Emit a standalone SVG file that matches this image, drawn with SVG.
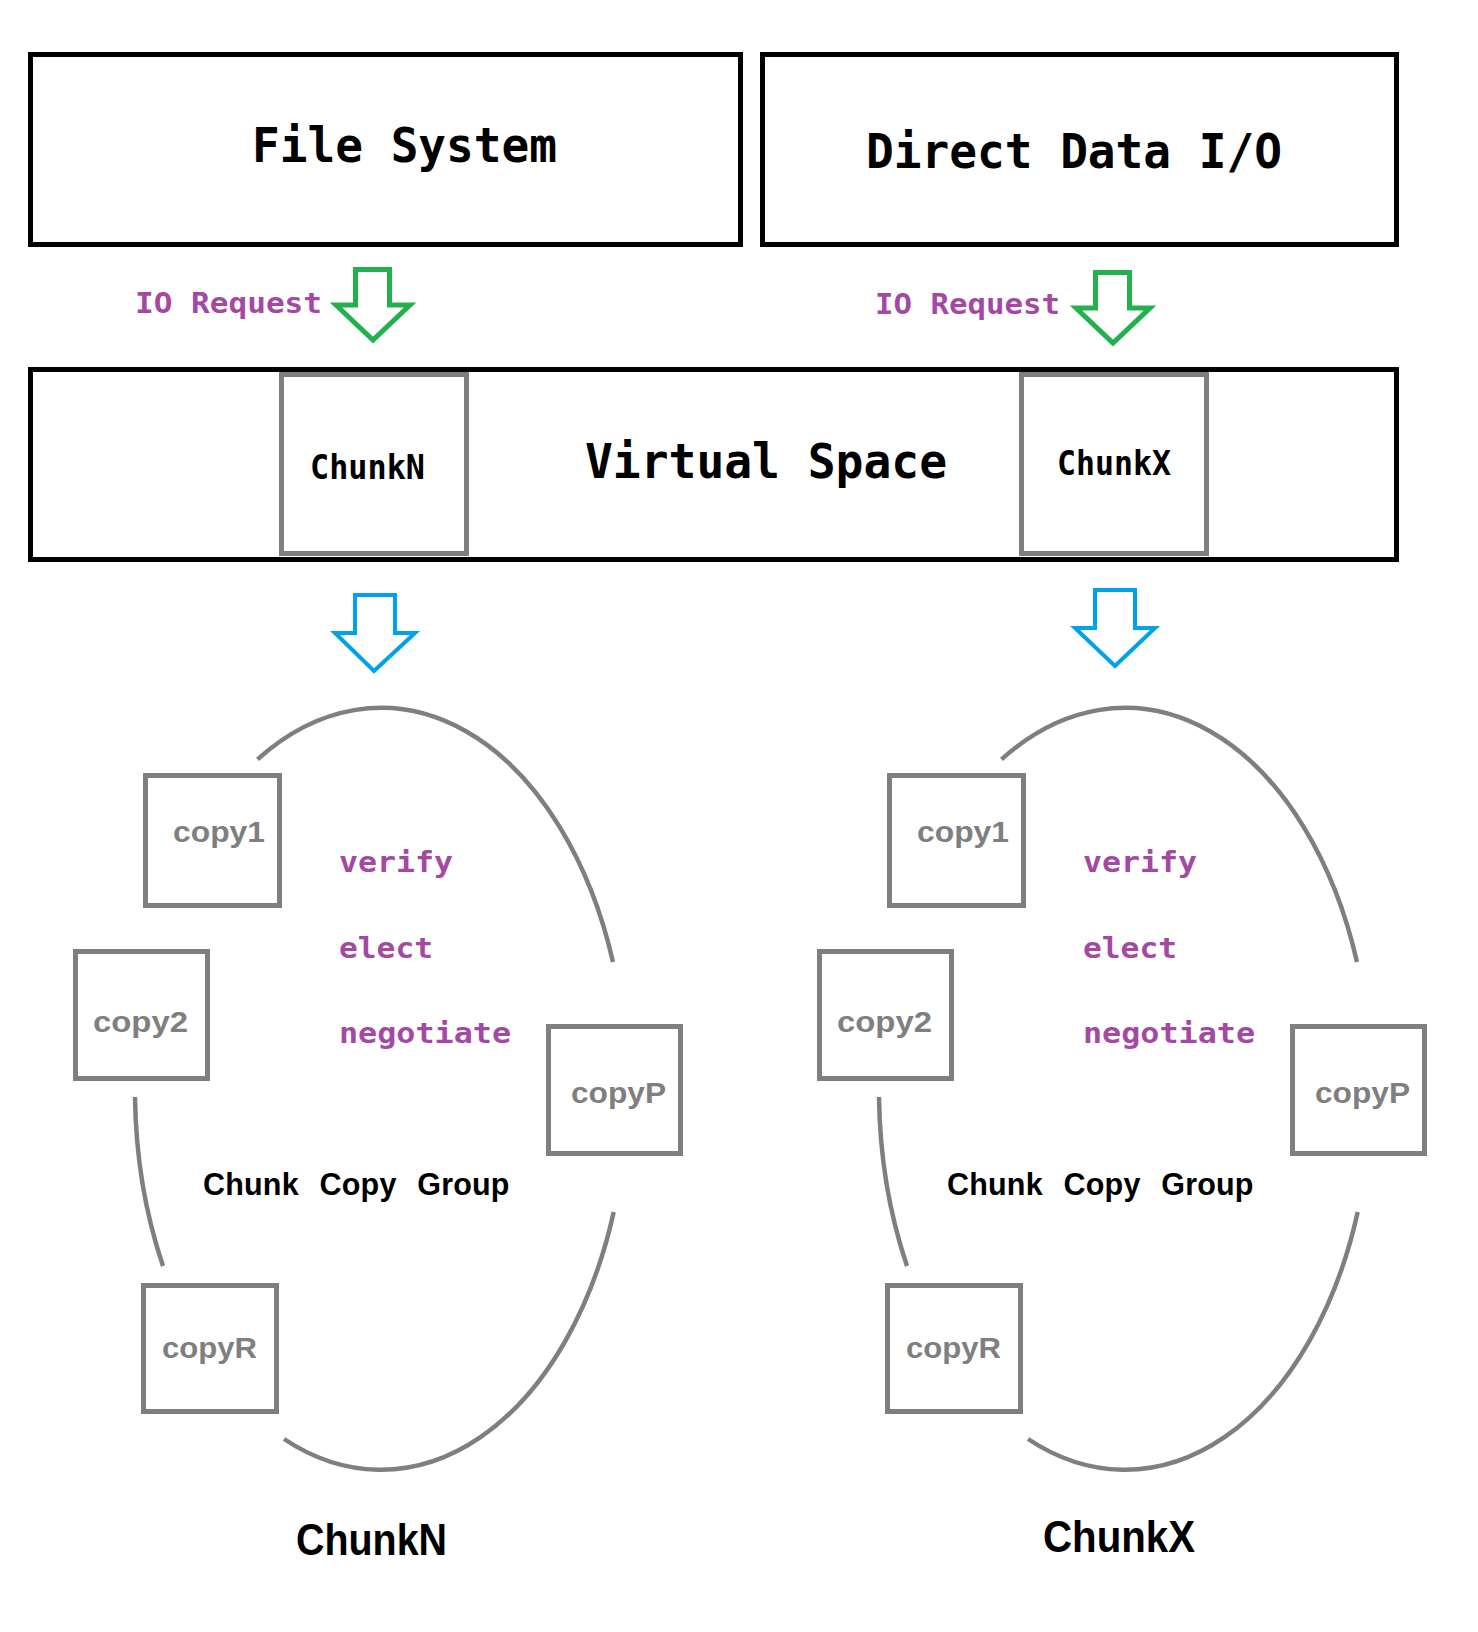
<svg xmlns="http://www.w3.org/2000/svg" width="1478" height="1632" viewBox="0 0 1478 1632">
<style>
.bbox{fill:#fff;stroke:#000;stroke-width:5}
.gbox{fill:#fff;stroke:#7f7f7f;stroke-width:5}
.garrow{fill:#fff;stroke:#22b14c;stroke-width:5;stroke-linejoin:miter}
.barrow{fill:#fff;stroke:#00a2e8;stroke-width:4;stroke-linejoin:miter}
.ring{fill:none;stroke:#7f7f7f;stroke-width:4.5}
.mono{font-family:"DejaVu Sans Mono","Liberation Mono",monospace;font-weight:bold}
.sans{font-family:"Liberation Sans","Arial",sans-serif;font-weight:bold}
.big{font-size:48px;fill:#000}
.req{font-size:29px;fill:#a349a4}
.chk{font-size:33px;fill:#000}
.act{font-size:28px;fill:#a349a4}
.cp{font-size:30px;fill:#7f7f7f}
.grp{font-size:30.5px;fill:#000;word-spacing:12px;letter-spacing:0.5px}
.lbl{font-size:44px;fill:#000}
</style>
<rect width="1478" height="1632" fill="#fff"/>
<g id="file-system">
<rect class="bbox" x="30.5" y="54.5" width="710" height="190"/>
<text class="mono big" x="252" y="162" textLength="305" lengthAdjust="spacingAndGlyphs">File System</text>
</g>
<g id="direct-data-io">
<rect class="bbox" x="762.5" y="54.5" width="634" height="190"/>
<text class="mono big" x="866" y="168" textLength="416" lengthAdjust="spacingAndGlyphs">Direct Data I/O</text>
</g>
<g id="virtual-space">
<rect class="bbox" x="30.5" y="369.5" width="1366" height="190"/>
<text class="mono big" x="585" y="478" textLength="362" lengthAdjust="spacingAndGlyphs">Virtual Space</text>
</g>
<g id="chunkN-slot">
<rect class="gbox" x="281.5" y="374.5" width="185" height="179"/>
<text class="mono chk" x="310" y="479" textLength="115" lengthAdjust="spacingAndGlyphs">ChunkN</text>
</g>
<g id="chunkX-slot">
<rect class="gbox" x="1021.5" y="374.5" width="185" height="179"/>
<text class="mono chk" x="1057" y="475" textLength="114" lengthAdjust="spacingAndGlyphs">ChunkX</text>
</g>
<g id="connectors">
<path class="garrow" d="M355.5,269.5 L389.5,269.5 L389.5,305 L410,305 L373,340 L336,305 L355.5,305 Z"/>
<path class="garrow" d="M1095.5,272.5 L1129.5,272.5 L1129.5,308 L1150,308 L1113,343 L1076,308 L1095.5,308 Z"/>
<path class="barrow" d="M355,595 L395,595 L395,633 L415,633 L374,671 L335,633 L355,633 Z"/>
<path class="barrow" d="M1095,590 L1135,590 L1135,628 L1155,628 L1115,666 L1075,628 L1095,628 Z"/>
<text class="mono req" x="135" y="313" textLength="187" lengthAdjust="spacingAndGlyphs">IO Request</text>
<text class="mono req" x="875" y="314" textLength="185" lengthAdjust="spacingAndGlyphs">IO Request</text>
</g>
<g id="group-chunkN">
<path class="ring" d="M257.5,759.4 A246,381 0 0,1 613,962"/>
<path class="ring" d="M613.7,1212 A246,381 0 0,1 284,1439"/>
<path class="ring" d="M135,1097 A246,381 0 0,0 163,1266"/>
<g id="n-copy1"><rect class="gbox" x="145.5" y="775.5" width="134" height="130"/><text class="sans cp" x="173" y="842" textLength="92" lengthAdjust="spacingAndGlyphs">copy1</text></g>
<g id="n-copy2"><rect class="gbox" x="75.5" y="951.5" width="132" height="127"/><text class="sans cp" x="93" y="1032" textLength="95" lengthAdjust="spacingAndGlyphs">copy2</text></g>
<g id="n-copyP"><rect class="gbox" x="548.5" y="1026.5" width="132" height="127"/><text class="sans cp" x="571" y="1103" textLength="95" lengthAdjust="spacingAndGlyphs">copyP</text></g>
<g id="n-copyR"><rect class="gbox" x="143.5" y="1285.5" width="133" height="126"/><text class="sans cp" x="162" y="1358" textLength="95" lengthAdjust="spacingAndGlyphs">copyR</text></g>
<text class="mono act" x="339" y="872" textLength="114" lengthAdjust="spacingAndGlyphs">verify</text>
<text class="mono act" x="339" y="958" textLength="94" lengthAdjust="spacingAndGlyphs">elect</text>
<text class="mono act" x="339" y="1043" textLength="172" lengthAdjust="spacingAndGlyphs">negotiate</text>
<text class="sans grp" x="203" y="1195" textLength="307" lengthAdjust="spacing">Chunk Copy Group</text>
<text class="sans lbl" x="296" y="1555" textLength="151" lengthAdjust="spacingAndGlyphs">ChunkN</text>
</g>
<g id="group-chunkX" transform="translate(744,0)">
<path class="ring" d="M257.5,759.4 A246,381 0 0,1 613,962"/>
<path class="ring" d="M613.7,1212 A246,381 0 0,1 284,1439"/>
<path class="ring" d="M135,1097 A246,381 0 0,0 163,1266"/>
<g id="x-copy1"><rect class="gbox" x="145.5" y="775.5" width="134" height="130"/><text class="sans cp" x="173" y="842" textLength="92" lengthAdjust="spacingAndGlyphs">copy1</text></g>
<g id="x-copy2"><rect class="gbox" x="75.5" y="951.5" width="132" height="127"/><text class="sans cp" x="93" y="1032" textLength="95" lengthAdjust="spacingAndGlyphs">copy2</text></g>
<g id="x-copyP"><rect class="gbox" x="548.5" y="1026.5" width="132" height="127"/><text class="sans cp" x="571" y="1103" textLength="95" lengthAdjust="spacingAndGlyphs">copyP</text></g>
<g id="x-copyR"><rect class="gbox" x="143.5" y="1285.5" width="133" height="126"/><text class="sans cp" x="162" y="1358" textLength="95" lengthAdjust="spacingAndGlyphs">copyR</text></g>
<text class="mono act" x="339" y="872" textLength="114" lengthAdjust="spacingAndGlyphs">verify</text>
<text class="mono act" x="339" y="958" textLength="94" lengthAdjust="spacingAndGlyphs">elect</text>
<text class="mono act" x="339" y="1043" textLength="172" lengthAdjust="spacingAndGlyphs">negotiate</text>
<text class="sans grp" x="203" y="1195" textLength="307" lengthAdjust="spacing">Chunk Copy Group</text>
<text class="sans lbl" x="299" y="1552" textLength="152" lengthAdjust="spacingAndGlyphs">ChunkX</text>
</g>
</svg>
